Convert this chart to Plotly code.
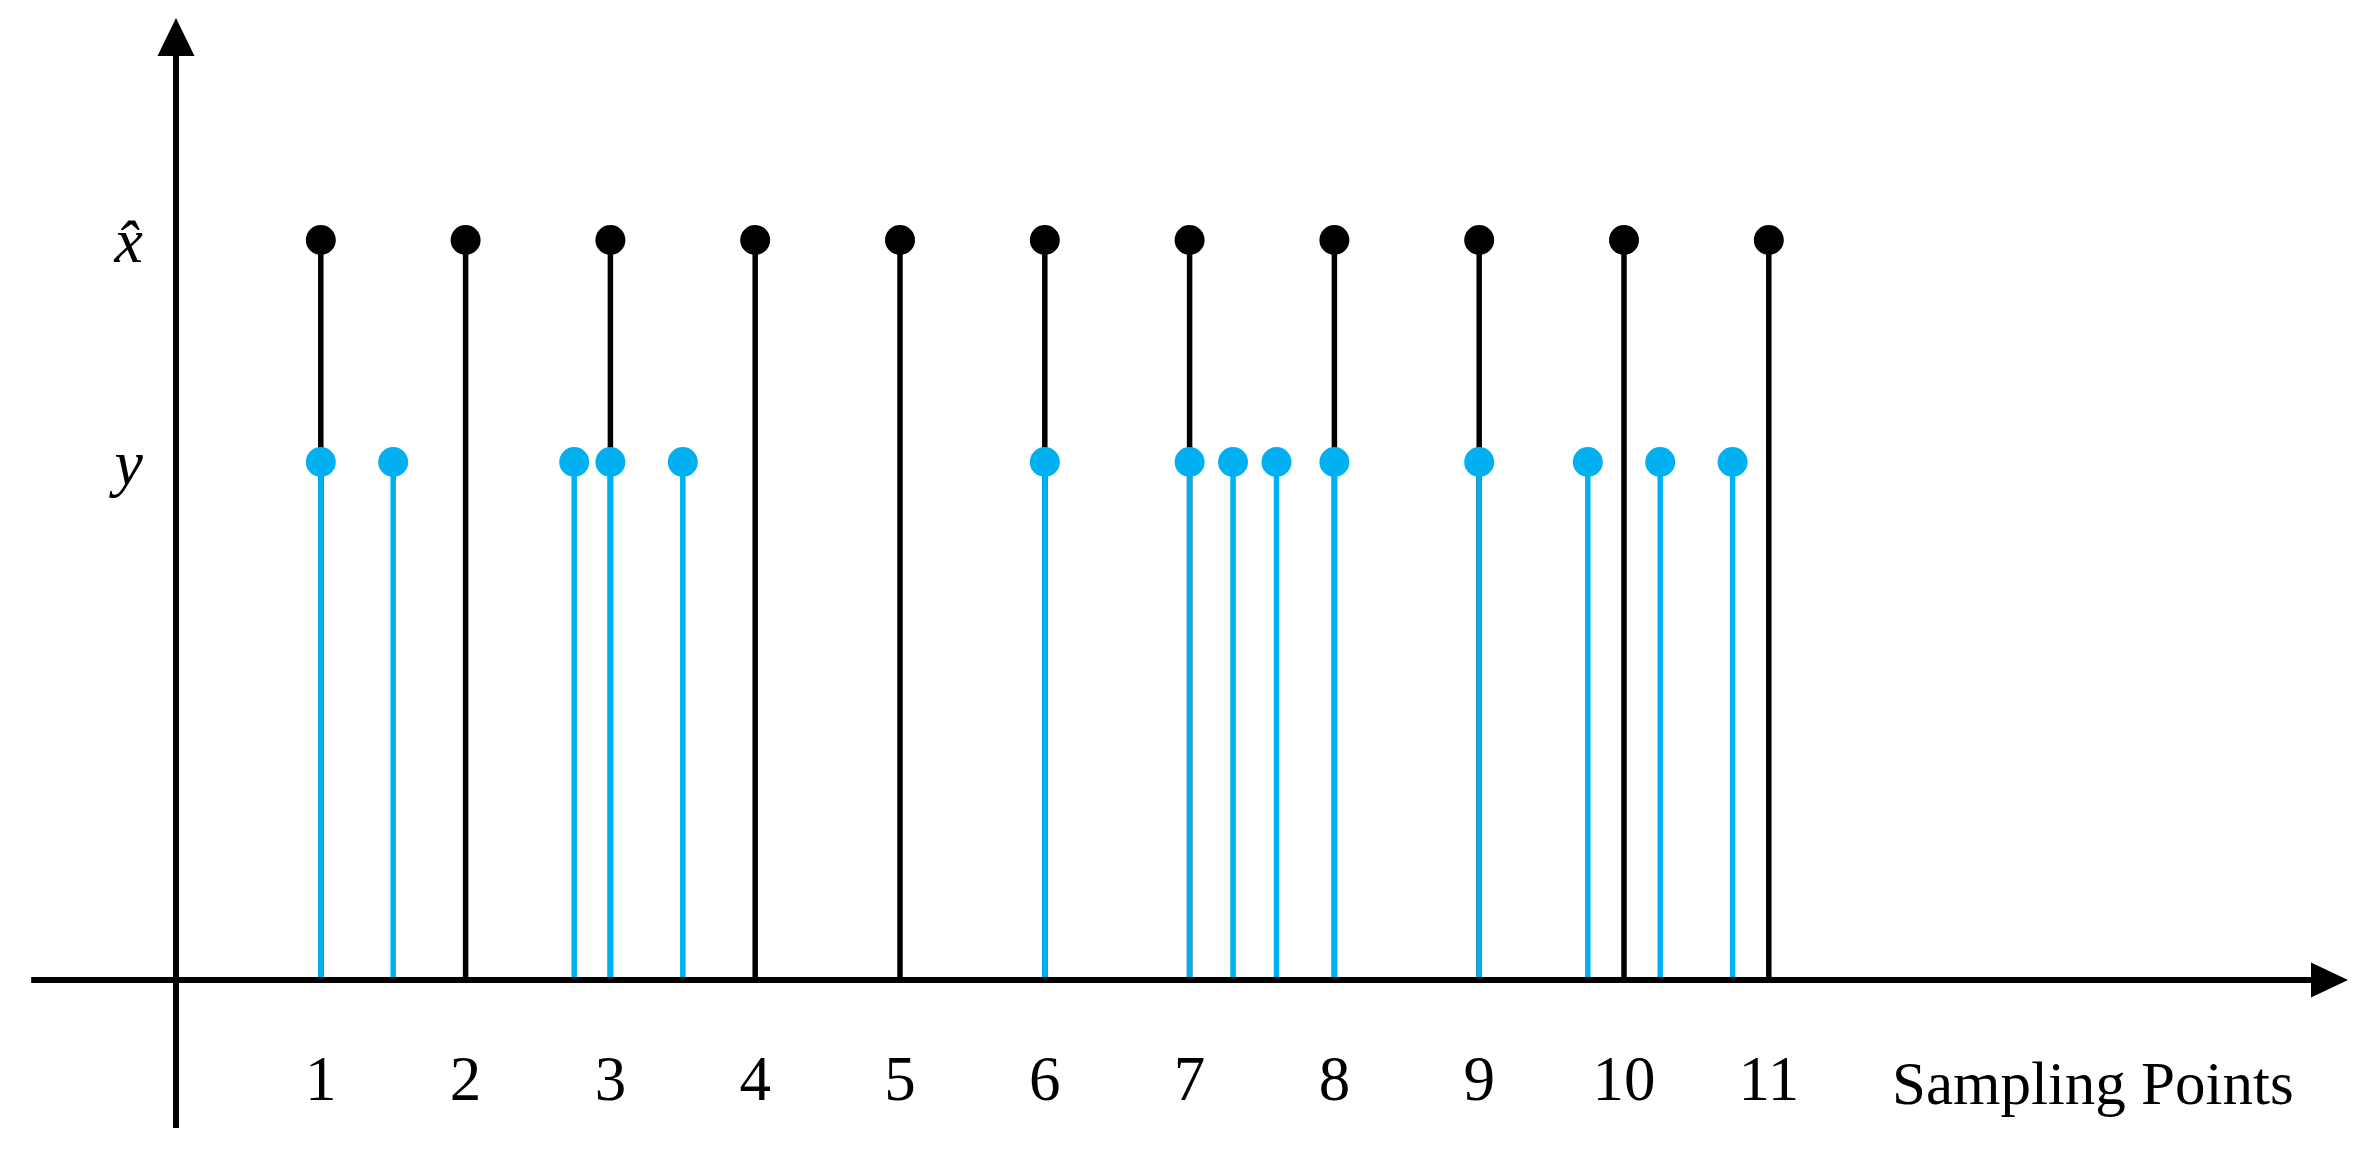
"""Échantillonnage : niveaux x̂ (noir) et y (bleu) aux points d'échantillonnage."""

import plotly.graph_objects as go

# --- données ---
sample_idx = [1, 2, 3, 4, 5, 6, 7, 8, 9, 10, 11]
xhat_vals = [1.0, 1.0, 1.0, 1.0, 1.0, 1.0, 1.0, 1.0, 1.0, 1.0, 1.0]

y_pos = [1, 1.5, 2.75, 3, 3.5, 6, 7, 7.3, 7.6, 8, 9, 9.75, 10.25, 10.75]
y_vals = [0.7, 0.7, 0.7, 0.7, 0.7, 0.7, 0.7, 0.7, 0.7, 0.7, 0.7, 0.7, 0.7, 0.7]

tick_labels = ["1", "2", "3", "4", "5", "6", "7", "8", "9", "10", "11"]
level_vals = [1.0, 0.7]
level_labels = ["<i>x\u0302</i>", "<i>y</i>"]
x_title = "Sampling Points"

# --- mise en page ---
W, H = 2376, 1162
X_RANGE = [-1.2155, 15.1934]
Y_RANGE = [-0.2459, 1.3243]
X_AXIS = [-1.0, 15.0]   # début / pointe de la flèche
Y_AXIS = [-0.2, 1.3]
BLACK = "black"
BLUE = "#00B0F0"
FONT = "Liberation Serif"

px_x = W / (X_RANGE[1] - X_RANGE[0])
px_y = H / (Y_RANGE[1] - Y_RANGE[0])


def stems(xs, ys):
    sx, sy = [], []
    for x, y in zip(xs, ys):
        sx += [x, x, None]
        sy += [0, y, None]
    return sx, sy


fig = go.Figure()

bx, by = stems(sample_idx, xhat_vals)
fig.add_trace(go.Scatter(x=bx, y=by, mode="lines", line=dict(color=BLACK, width=5.5), hoverinfo="skip"))
fig.add_trace(go.Scatter(x=sample_idx, y=xhat_vals, mode="markers",
                         marker=dict(color=BLACK, size=30, line=dict(width=0))))

cx, cy = stems(y_pos, y_vals)
fig.add_trace(go.Scatter(x=cx, y=cy, mode="lines", line=dict(color=BLUE, width=5.5), hoverinfo="skip"))
fig.add_trace(go.Scatter(x=y_pos, y=y_vals, mode="markers",
                         marker=dict(color=BLUE, size=30, line=dict(width=0))))

# axes avec flèches
arrow = 37
fig.add_shape(type="line", x0=X_AXIS[0], x1=X_AXIS[1] - arrow / px_x, y0=0, y1=0,
              line=dict(color=BLACK, width=6), layer="above")
fig.add_shape(type="line", x0=0, x1=0, y0=Y_AXIS[0], y1=Y_AXIS[1] - arrow / px_y,
              line=dict(color=BLACK, width=6), layer="above")
fig.add_shape(type="path", xref="x", yref="y", xsizemode="pixel", ysizemode="pixel",
              xanchor=X_AXIS[1], yanchor=0, path="M0,0 L-37,17.5 L-37,-17.5 Z",
              fillcolor=BLACK, line=dict(width=0), layer="above")
fig.add_shape(type="path", xref="x", yref="y", xsizemode="pixel", ysizemode="pixel",
              xanchor=0, yanchor=Y_AXIS[1], path="M0,0 L-18.5,-38 L18.5,-38 Z",
              fillcolor=BLACK, line=dict(width=0), layer="above")

fig.add_annotation(x=11.84, y=-0.14, xref="x", yref="y", xanchor="left", yanchor="middle",
                   text=x_title, showarrow=False, font=dict(family=FONT, size=61, color=BLACK))

x0_paper = (0 - X_RANGE[0]) / (X_RANGE[1] - X_RANGE[0])
y0_paper = (0 - Y_RANGE[0]) / (Y_RANGE[1] - Y_RANGE[0])

fig.update_xaxes(range=X_RANGE, showgrid=False, zeroline=False, showline=False, ticks="",
                 tickvals=sample_idx, ticktext=tick_labels, anchor="free", position=y0_paper,
                 ticklabelstandoff=56, tickfont=dict(family=FONT, size=63, color=BLACK))
fig.update_yaxes(range=Y_RANGE, showgrid=False, zeroline=False, showline=False, ticks="",
                 tickvals=level_vals, ticktext=level_labels, anchor="free", position=x0_paper,
                 ticklabelstandoff=33, tickfont=dict(family=FONT, size=64, color=BLACK))

fig.update_layout(width=W, height=H, margin=dict(l=0, r=0, t=0, b=0),
                  plot_bgcolor="white", paper_bgcolor="white", showlegend=False)

fig.write_html("out.html", config={"displayModeBar": False},
               post_script="document.body.style.margin='0';")
